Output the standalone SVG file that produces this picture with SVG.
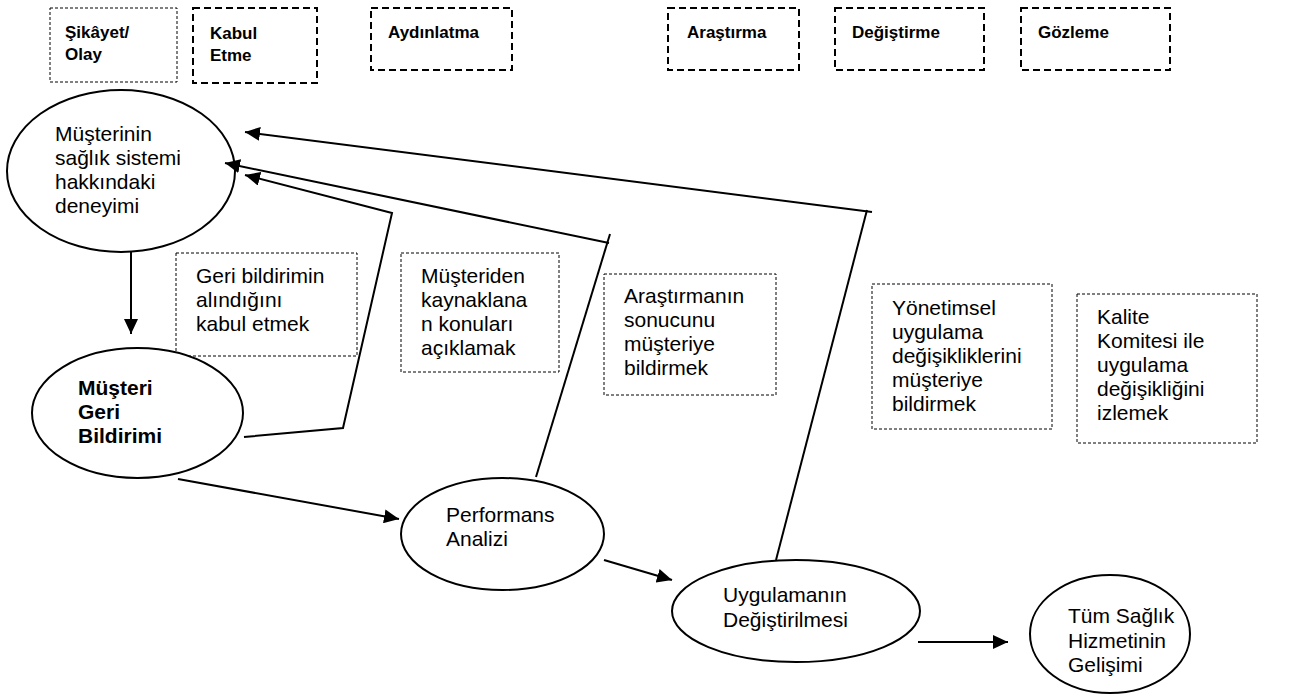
<svg xmlns="http://www.w3.org/2000/svg" width="1296" height="700" viewBox="0 0 1296 700">
<style>
text{font-family:"Liberation Sans",Arial,sans-serif;fill:#000}
.h{font-size:17px;font-weight:bold}
.t{font-size:21px}
.b{font-size:21px;font-weight:bold}
.hb1{fill:none;stroke:#000;stroke-width:1;stroke-dasharray:3 2}
.hb{fill:none;stroke:#000;stroke-width:2;stroke-dasharray:7 4}
.db{fill:none;stroke:#000;stroke-width:1;stroke-dasharray:3 2}
.el{fill:#fff;stroke:#000;stroke-width:2}
.c{fill:none;stroke:#000;stroke-width:2}
</style>
<defs>
<marker id="ah" markerUnits="userSpaceOnUse" markerWidth="16" markerHeight="14" refX="15" refY="7" orient="auto">
<path d="M0,0 L15,7 L0,14 z" fill="#000"/>
</marker>
</defs>
<rect width="1296" height="700" fill="#fff"/>
<g id="h1"><rect class="hb1" x="50" y="8" width="127" height="74"/><text class="h" x="65" y="38">Şikâyet/</text><text class="h" x="65" y="60">Olay</text></g>
<g id="h2"><rect class="hb" x="193" y="8" width="124" height="75"/><text class="h" x="210" y="39">Kabul</text><text class="h" x="210" y="61">Etme</text></g>
<g id="h3"><rect class="hb" x="371" y="8" width="141" height="62"/><text class="h" x="388" y="38">Aydınlatma</text></g>
<g id="h4"><rect class="hb" x="668" y="8" width="131" height="62"/><text class="h" x="687" y="38">Araştırma</text></g>
<g id="h5"><rect class="hb" x="835" y="8" width="149" height="62"/><text class="h" x="852" y="38">Değiştirme</text></g>
<g id="h6"><rect class="hb" x="1021" y="8" width="149" height="62"/><text class="h" x="1038" y="38">Gözleme</text></g>

<g id="n-deneyim"><ellipse class="el" cx="121" cy="171" rx="114" ry="81"/>
<text class="t" x="55" y="141">Müşterinin</text><text class="t" x="55" y="165">sağlık sistemi</text><text class="t" x="55" y="189">hakkındaki</text><text class="t" x="55" y="213">deneyimi</text></g>

<g id="box-geri"><rect class="db" x="176" y="253" width="181" height="103"/>
<text class="t" x="196" y="283">Geri bildirimin</text><text class="t" x="196" y="307">alındığını</text><text class="t" x="196" y="331">kabul etmek</text></g>

<g id="n-geribildirim"><ellipse class="el" cx="137.5" cy="413" rx="105.5" ry="65"/>
<text class="b" x="78" y="395">Müşteri</text><text class="b" x="78" y="419">Geri</text><text class="b" x="78" y="443">Bildirimi</text></g>

<g id="box-musteriden"><rect class="db" x="401" y="253" width="158" height="119"/>
<text class="t" x="421" y="283">Müşteriden</text><text class="t" x="421" y="307">kaynaklana</text><text class="t" x="421" y="331">n konuları</text><text class="t" x="421" y="355">açıklamak</text></g>

<g id="box-arastirma"><rect class="db" x="604" y="274" width="172" height="121"/>
<text class="t" x="624" y="303">Araştırmanın</text><text class="t" x="624" y="327">sonucunu</text><text class="t" x="624" y="351">müşteriye</text><text class="t" x="624" y="375">bildirmek</text></g>

<g id="box-yonetimsel"><rect class="db" x="872" y="284" width="180" height="145"/>
<text class="t" x="892" y="315">Yönetimsel</text><text class="t" x="892" y="339">uygulama</text><text class="t" x="892" y="363">değişikliklerini</text><text class="t" x="892" y="387">müşteriye</text><text class="t" x="892" y="411">bildirmek</text></g>

<g id="box-kalite"><rect class="db" x="1077" y="294" width="180" height="149"/>
<text class="t" x="1097" y="324">Kalite</text><text class="t" x="1097" y="348">Komitesi ile</text><text class="t" x="1097" y="372">uygulama</text><text class="t" x="1097" y="396">değişikliğini</text><text class="t" x="1097" y="420">izlemek</text></g>

<g id="n-performans"><ellipse class="el" cx="502.5" cy="534" rx="101.5" ry="56"/>
<text class="t" x="446" y="522">Performans</text><text class="t" x="446" y="546">Analizi</text></g>

<g id="n-uygulama"><ellipse class="el" cx="796" cy="611" rx="124" ry="51"/>
<text class="t" x="723" y="602">Uygulamanın</text><text class="t" x="723" y="627">Değiştirilmesi</text></g>

<g id="n-tum"><ellipse class="el" cx="1110" cy="634" rx="80" ry="59"/>
<text class="t" x="1068" y="623">Tüm Sağlık</text><text class="t" x="1068" y="648">Hizmetinin</text><text class="t" x="1068" y="672">Gelişimi</text></g>

<g id="connectors">
<line class="c" x1="131" y1="252" x2="131" y2="334" marker-end="url(#ah)"/>
<line class="c" x1="178" y1="479" x2="399" y2="519" marker-end="url(#ah)"/>
<line class="c" x1="604" y1="560" x2="672" y2="580" marker-end="url(#ah)"/>
<line class="c" x1="918" y1="642" x2="1008" y2="642" marker-end="url(#ah)"/>
<polyline class="c" points="244,437 343,428 392,213 245,175" marker-end="url(#ah)"/>
<line class="c" x1="536" y1="477" x2="610" y2="234"/>
<line class="c" x1="609" y1="243" x2="225" y2="163" marker-end="url(#ah)"/>
<line class="c" x1="776" y1="560" x2="867" y2="210"/>
<line class="c" x1="872" y1="212" x2="245" y2="132" marker-end="url(#ah)"/>
</g>
</svg>
